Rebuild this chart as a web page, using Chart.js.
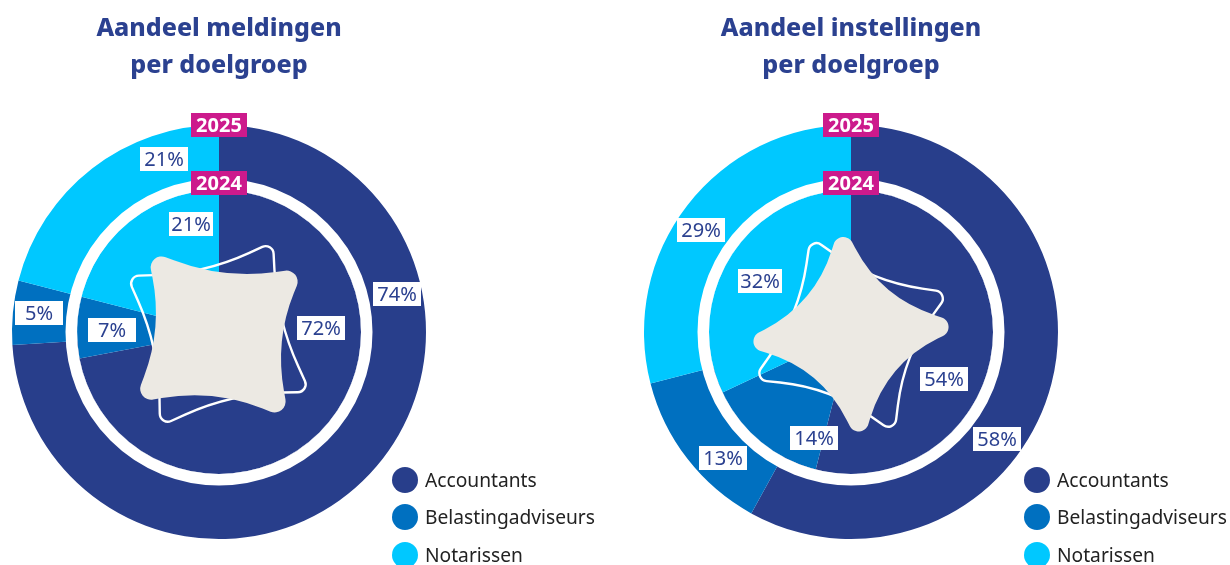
<!DOCTYPE html>
<html>
<head>
<meta charset="utf-8">
<script src="https://cdn.jsdelivr.net/npm/chart.js@4"></script>
<style>
  html, body { margin: 0; padding: 0; background: #fff; }
  #page { position: relative; width: 1230px; height: 565px; overflow: hidden; font-family: "Noto Sans", sans-serif; }
  canvas { position: absolute; top: 0; }
  .legend { position: absolute; top: 461px; }
  .legend div { position: relative; height: 37.3px; line-height: 37px; padding-left: 33px; font-size: 19.2px; color: #222; white-space: nowrap; }
  .legend i { position: absolute; left: 0; top: 6px; width: 26px; height: 26px; border-radius: 50%; }
</style>
</head>
<body>
<div id="page">
  <canvas id="left" width="438" height="565" style="left:0"></canvas>
  <canvas id="right" width="438" height="565" style="left:632px"></canvas>
  <div class="legend" style="left:392px"></div>
  <div class="legend" style="left:1024px"></div>
</div>
<script>
const categories = ["Accountants", "Belastingadviseurs", "Notarissen"];
const colors = ["#283e8b", "#0070c0", "#00c8ff"];

const years = ["2025", "2024"];
const meldingen2025 = [74, 5, 21];
const meldingen2024 = [72, 7, 21];
const instellingen2025 = [58, 13, 29];
const instellingen2024 = [54, 14, 32];

const navy = "#2b4190";
const magenta = "#cc1a8c";

// label box centres, px from the centre of the ring: [dataset][category]
const labelsLeft = [[[178, -38], [-180, -19], [-55, -173]], [[102, -4], [-107, -2], [-28, -108]]];
const labelsRight = [[[146, 107], [-128, 126], [-150, -102]], [[93, 47], [-37, 106], [-91, -51]]];

// star tips, px from the centre
const starsLeft = {
  fill: [[-72, -82], [85, -64], [70, 87], [-85, 71]],
  line: [[54, -90], [91, 60], [-59, 94], [-92, -56]],
  fillBend: 0.28, lineBend: 0.2, fillRound: 11, lineRound: 8
};
const starsRight = {
  fill: [[-10, -111], [114, -7], [10, 116], [-114, 12]],
  line: [[-40.5, -95], [98, -39.5], [43.5, 101], [-98, 47.7]],
  fillBend: 0.42, lineBend: 0.25, fillRound: 10, lineRound: 8
};

function starPath(ctx, cx, cy, tips, bend, round) {
  const n = tips.length;
  const pts = tips.map(t => [cx + t[0], cy + t[1]]);
  const ctrl = pts.map((p, i) => {
    const q = pts[(i + 1) % n];
    const mx = (p[0] + q[0]) / 2, my = (p[1] + q[1]) / 2;
    return [mx + (cx - mx) * bend, my + (cy - my) * bend];
  });
  const r = 0.35;
  const along = (p, c) => [p[0] + (c[0] - p[0]) * r, p[1] + (c[1] - p[1]) * r];
  ctx.beginPath();
  let start = along(pts[0], ctrl[0]);
  ctx.moveTo(start[0], start[1]);
  for (let i = 0; i < n; i++) {
    const j = (i + 1) % n;
    const enter = along(pts[j], ctrl[i]);
    const exit = along(pts[j], ctrl[j]);
    ctx.quadraticCurveTo(ctrl[i][0], ctrl[i][1], enter[0], enter[1]);
    ctx.arcTo(pts[j][0], pts[j][1], exit[0], exit[1], round);
    ctx.lineTo(exit[0], exit[1]);
  }
  ctx.closePath();
}

function box(ctx, x, y, w, h, fill, text, color, font) {
  ctx.fillStyle = fill;
  ctx.fillRect(x - w / 2, y - h / 2, w, h);
  ctx.fillStyle = color;
  ctx.font = font;
  ctx.textAlign = "center";
  ctx.textBaseline = "middle";
  ctx.fillText(text, x, y + 1);
}

const decorate = {
  id: "decorate",
  afterDatasetsDraw(chart, args, opts) {
    const ctx = chart.ctx;
    const cx = (chart.chartArea.left + chart.chartArea.right) / 2;
    const cy = (chart.chartArea.top + chart.chartArea.bottom) / 2;
    const stars = opts.stars;
    ctx.save();
    // white ring between the two years
    ctx.beginPath();
    ctx.arc(cx, cy, 147.75, 0, Math.PI * 2);
    ctx.strokeStyle = "#fff";
    ctx.lineWidth = 11.5;
    ctx.stroke();

    starPath(ctx, cx, cy, stars.line, stars.lineBend, stars.lineRound);
    ctx.strokeStyle = "#fff";
    ctx.lineWidth = 2.4;
    ctx.stroke();
    starPath(ctx, cx, cy, stars.fill, stars.fillBend, stars.fillRound);
    ctx.fillStyle = "#ece9e3";
    ctx.fill();

    chart.data.datasets.forEach((ds, d) => {
      ds.data.forEach((v, i) => {
        const p = opts.labels[d][i];
        box(ctx, cx + p[0], cy + p[1], d === 1 && i === 2 ? 44 : 48, 24, "#fff", v + "%", navy, "20px 'Noto Sans'");
      });
    });
    box(ctx, cx, cy - 207, 56, 24, magenta, years[0], "#fff", "bold 20px 'Noto Sans'");
    box(ctx, cx, cy - 149, 56, 24, magenta, years[1], "#fff", "bold 20px 'Noto Sans'");
    ctx.restore();
  }
};

function ringChart(id, title, outer, inner, labels, stars) {
  return new Chart(document.getElementById(id), {
    type: "doughnut",
    data: {
      labels: categories,
      datasets: [
        { label: years[0], data: outer, backgroundColor: colors, borderWidth: 0, weight: 65 },
        { label: years[1], data: inner, backgroundColor: colors, borderWidth: 0, weight: 142 }
      ]
    },
    options: {
      responsive: false,
      animation: false,
      cutout: 0,
      layout: { padding: { bottom: 26 } },
      plugins: {
        legend: { display: false },
        tooltip: { enabled: false },
        title: {
          display: true,
          text: title,
          color: navy,
          font: { family: "'Noto Sans'", size: 25, weight: "800", lineHeight: 1.48 },
          padding: { top: 10, bottom: 41 }
        },
        decorate: { labels, stars }
      }
    },
    plugins: [decorate]
  });
}

ringChart("left", ["Aandeel meldingen", "per doelgroep"], meldingen2025, meldingen2024, labelsLeft, starsLeft);
ringChart("right", ["Aandeel instellingen", "per doelgroep"], instellingen2025, instellingen2024, labelsRight, starsRight);

document.querySelectorAll(".legend").forEach(el => {
  categories.forEach((name, i) => {
    const row = document.createElement("div");
    row.innerHTML = '<i style="background:' + colors[i] + '"></i>' + name;
    el.appendChild(row);
  });
});
</script>
</body>
</html>
